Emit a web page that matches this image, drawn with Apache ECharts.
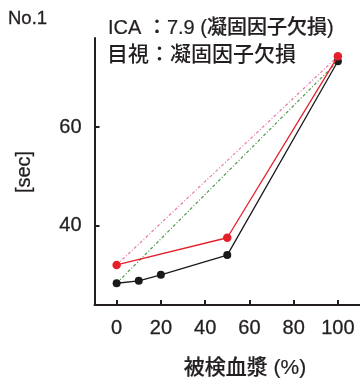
<!DOCTYPE html>
<html><head><meta charset="utf-8">
<script src="https://cdn.jsdelivr.net/npm/echarts@6/dist/echarts.min.js"></script>
<style>html,body{margin:0;padding:0;background:#fff;}#c{width:360px;height:381px;}</style>
</head><body><div id="c"></div>
<script>
const xTicks = [0, 20, 40, 60, 80, 100];
const yTicks = [40, 60];
const blackX = [0, 10, 20, 50, 100];
const blackY = [28.4, 28.9, 30.1, 34.1, 73.3];
const redX = [0, 50, 100];
const redY = [32.1, 37.6, 74.3];
const titleNo = 'No.1';
const line1 = 'ICA ：7.9 (凝固因子欠損)';
const line2 = '目視：凝固因子欠損';
const xName = '被検血漿 (%)';
const yName = '[sec]';

const ff = "'Liberation Sans', Arial, 'Noto Sans CJK JP', sans-serif";
const ink = '#231f20';
const pair = (xs, ys) => xs.map((x, i) => [x, ys[i]]);
const blackData = pair(blackX, blackY);
const redData = pair(redX, redY);
const pinkData = [redData[0], redData[redData.length - 1]];
const greenData = [blackData[0], blackData[blackData.length - 1]];

const chart = echarts.init(document.getElementById('c'), null, {renderer: 'canvas'});
chart.setOption({
  animation: false,
  backgroundColor: '#fff',
  grid: {left: 94.5, top: 38, width: 267, height: 267, containLabel: false},
  xAxis: {
    type: 'value', min: -10, max: 110,
    axisLine: {show: true, onZero: false, lineStyle: {color: ink, width: 2}},
    axisTick: {show: true, inside: true, length: 5, customValues: xTicks, lineStyle: {color: ink, width: 2}},
    axisLabel: {show: true, customValues: xTicks, margin: 13, fontSize: 20, color: ink, fontFamily: ff, textBorderColor: ink, textBorderWidth: 0.3},
    splitLine: {show: false}
  },
  yAxis: {
    type: 'value', min: 24, max: 78,
    axisLine: {show: true, onZero: false, lineStyle: {color: ink, width: 2}},
    axisTick: {show: true, inside: true, length: 5, customValues: yTicks, lineStyle: {color: ink, width: 2}},
    axisLabel: {show: true, customValues: yTicks, margin: 13, fontSize: 20, color: ink, fontFamily: ff, textBorderColor: ink, textBorderWidth: 0.3},
    splitLine: {show: false}
  },
  graphic: [
    {type: 'text', x: 8, y: 19, style: {text: titleNo, font: "18.5px " + ff, fill: ink, stroke: ink, lineWidth: 0.3, textAlign: 'left', textVerticalAlign: 'middle'}},
    {type: 'text', x: 108, y: 28, style: {text: line1, font: "500 20px " + ff, fill: ink, stroke: ink, lineWidth: 0.2, textAlign: 'left', textVerticalAlign: 'middle'}},
    {type: 'text', x: 107, y: 55, style: {text: line2, font: "500 21px " + ff, fill: ink, textAlign: 'left', textVerticalAlign: 'middle'}},
    {type: 'text', x: 245, y: 368, style: {text: xName, font: "500 21px " + ff, fill: ink, stroke: ink, lineWidth: 0.2, textAlign: 'center', textVerticalAlign: 'middle'}},
    {type: 'text', x: 24, y: 172, rotation: Math.PI / 2, style: {text: yName, font: "20px " + ff, fill: ink, stroke: ink, lineWidth: 0.3, textAlign: 'center', textVerticalAlign: 'middle'}}
  ],
  series: [
    {type: 'line', data: pinkData, symbol: 'none', lineStyle: {color: '#e87aaf', width: 1.2, type: [3, 2, 1, 2]}, z: 1},
    {type: 'line', data: greenData, symbol: 'none', lineStyle: {color: '#4d9a48', width: 1.2, type: [3, 2, 1, 2]}, z: 1},
    {type: 'line', data: blackData, symbol: 'circle', symbolSize: 8, itemStyle: {color: '#1a1a1a'}, lineStyle: {color: '#1a1a1a', width: 1.3}, z: 2},
    {type: 'line', data: redData, symbol: 'circle', symbolSize: 8.5, itemStyle: {color: '#e5202a'}, lineStyle: {color: '#e5202a', width: 1.3}, z: 3}
  ]
});
</script></body></html>
